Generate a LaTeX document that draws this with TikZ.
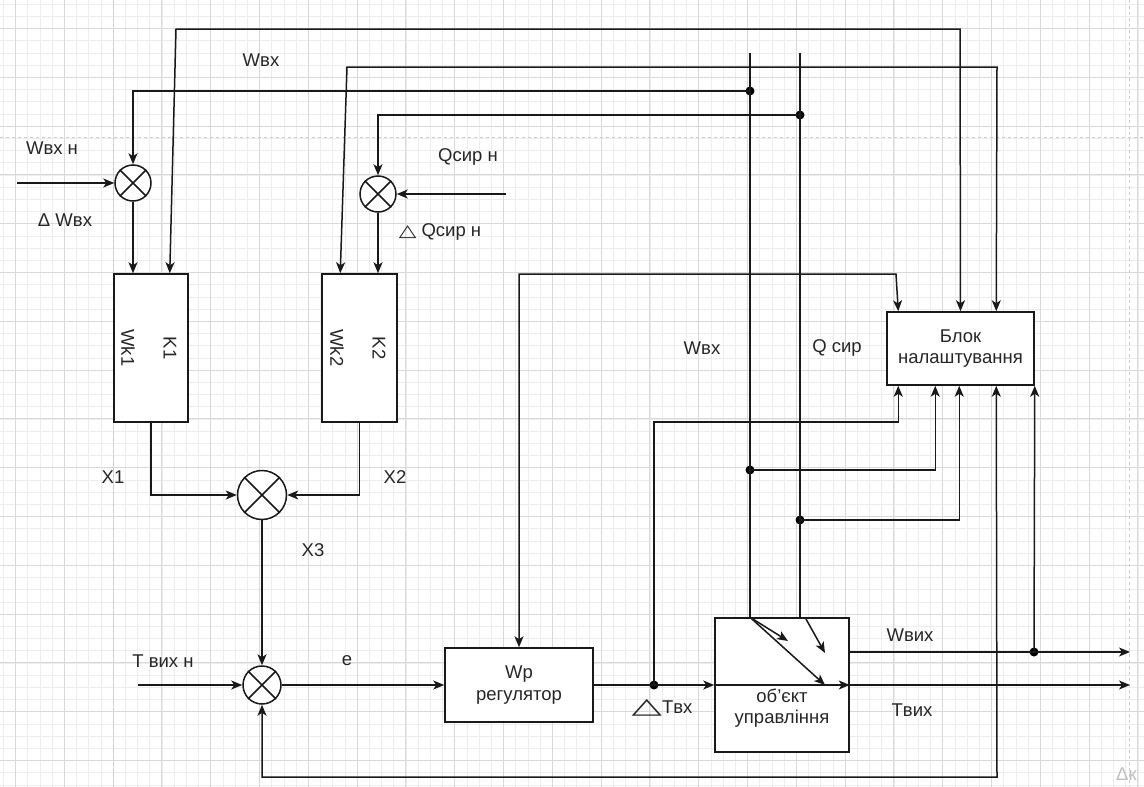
\documentclass[tikz,border=0pt]{standalone}
\usepackage{fontspec}
\usepackage{graphicx}
\setmainfont{Liberation Sans}
\newfontfamily\symfont{DejaVu Sans}
\usetikzlibrary{arrows.meta,positioning,calc}
\newcommand{\lblfont}{\fontsize{18.5}{21.5}\selectfont}
\newcommand{\flattri}[2]{{\symfont\fontsize{#1}{#1}\selectfont\scalebox{#2}[1]{△}}}

\begin{document}
\begin{tikzpicture}[x=1pt,y=-1pt,
  >={Stealth[length=11pt,width=9pt,inset=3pt]},
  wire/.style={draw=black!90, line width=1.5pt},
  blockbox/.style={rectangle, draw=black!90, line width=1.5pt, fill=white, align=center, inner sep=0pt, font=\lblfont, text=black!85},
  summ/.style={circle, draw=black!90, line width=1.5pt, fill=white, inner sep=0pt},
  dot/.style={circle, fill=black, inner sep=0pt, minimum size=9pt},
  lbl/.style={font=\lblfont, text=black!85, inner sep=0pt},
  gmin/.style={draw=gray!14, line width=0.7pt},
  gmaj/.style={draw=gray!30, line width=0.9pt},
  pgbrk/.style={draw=gray!40, dashed, line width=0.9pt}]

  \useasboundingbox (0,0) rectangle (1144,787);
  \clip (0,0) rectangle (1144,787);

  % Background grid and page breaks
  \foreach \i in {0,...,94} \draw[gmin] ({3.3+12.2*\i},0) -- ({3.3+12.2*\i},787);
  \foreach \i in {0,...,64} \draw[gmin] (0,{4.1+12.2*\i}) -- (1144,{4.1+12.2*\i});
  \foreach \i in {0,...,23} \draw[gmaj] ({15.5+48.8*\i},0) -- ({15.5+48.8*\i},787);
  \foreach \i in {0,...,16} \draw[gmaj] (0,{28.5+48.8*\i}) -- (1144,{28.5+48.8*\i});
  \draw[pgbrk] (113,0) -- (113,787);
  \draw[pgbrk] (1129,0) -- (1129,787);
  \draw[pgbrk] (0,137) -- (1144,137);
  \node[lbl, text=gray!50, anchor=north west] (corner) at (1116,768) {Δк};

  % Summators
  \node[summ, minimum size=36pt] (sumW) at (133,183) {};
  \node[summ, minimum size=36pt] (sumQ) at (378,194) {};
  \node[summ, minimum size=49pt] (sumX) at (262,495) {};
  \node[summ, minimum size=38pt] (sumT) at (262,685) {};
  \foreach \s in {sumW,sumQ,sumX,sumT}
    \draw[wire] (\s.north west) -- (\s.south east) (\s.north east) -- (\s.south west);

  % Blocks
  \node[blockbox, minimum width=74pt, minimum height=148pt] (k1) at (151,348) {};
  \node[blockbox, minimum width=75pt, minimum height=148pt] (k2) at (359.5,348) {};
  \node[blockbox, minimum width=148pt, minimum height=74pt] (wp) at (519,685) {Wp\\регулятор};
  \node[blockbox, minimum width=134pt, minimum height=134pt] (obj) at (782,685) {};
  \node[blockbox, minimum width=147pt, minimum height=73pt] (blk) at (960.5,348.5) {Блок\\налаштування};
  \node[lbl, rotate=-90] (wk1) at (128,348) {Wk1};
  \node[lbl, rotate=-90] (kk1) at (170,348) {K1};
  \node[lbl, rotate=-90] (wk2) at (337,348) {Wk2};
  \node[lbl, rotate=-90] (kk2) at (379,348) {K2};
  \node[lbl, align=center] (objtxt) at (782,708) {об'єкт\\управління};

  % Junction dots and free ends
  \node[dot] (dW1) at (750,91) {};
  \node[dot] (dQ1) at (800,115) {};
  \node[dot] (dW2) at (750,470) {};
  \node[dot] (dQ2) at (800,520) {};
  \node[dot] (dT) at (654,685) {};
  \node[dot] (dWo) at (1034,652) {};
  \coordinate (wtop) at (750,53);
  \coordinate (qtop) at (800,53);
  \coordinate (inW) at (17,183);
  \coordinate (inQ) at (506,194);
  \coordinate (inT) at (138,685);
  \coordinate (outW) at (1130,652);
  \coordinate (outT) at (1130,685);
  \coordinate (fb) at (262,777);

  % Measured Wвх and Qсир into the object
  \draw[wire] (wtop) -- (wtop |- obj.north);
  \draw[wire] (qtop) -- (qtop |- obj.north);
  \draw[wire,->] (wtop |- obj.north) -- (788,641);
  \draw[wire,->] (wtop |- obj.north) -- (825,685);
  \draw[wire,->] ($(qtop |- obj.north)+(5,0)$) -- (825,653);

  % Top feedback to summators and K blocks
  \draw[wire,->] (dW1.center) -| (sumW.north);
  \draw[wire,->] (dQ1.center) -| (sumQ.north);
  \draw[wire,<->] (blk.north) -- (960,29) -- (176,29) -- ($(k1.north east)+(-19,0)$);
  \draw[wire,<->] ($(blk.north west)+(110,0)$) -- (997,67) -- (347,67) -- ($(k2.north west)+(19,0)$);
  \draw[wire,<->] (wp.north) -- (519,274) -- (896,274) -- ($(blk.north west)+(12,0)$);

  % Inputs and K blocks
  \draw[wire,->] (inW) -- (sumW.west);
  \draw[wire,->] (inQ) -- (sumQ.east);
  \draw[wire,->] (sumW.south) -- (sumW.south |- k1.north);
  \draw[wire,->] (sumQ.south) -- (sumQ.south |- k2.north);
  \draw[wire,->] (k1.south) |- (sumX.west);
  \draw[wire,->] (k2.south) |- (sumX.east);
  \draw[wire,->] (sumX.south) -- (sumT.north);

  % Main loop
  \draw[wire,->] (inT) -- (sumT.west);
  \draw[wire,->] (sumT.east) -- (wp.west);
  \draw[wire] (wp.east) -- (dT.center);
  \draw[wire,->] (dT.center) -- (obj.west);
  \draw[wire,->] (obj.west) -- (obj.east);
  \draw[wire,->] (obj.east) -- (outT);
  \draw[wire,->] ($(obj.east)+(0,-33)$) -- (outW);
  \draw[wire,<->] ($(blk.south west)+(110,0)$) -- (997,777) -- (fb) -- (sumT.south);

  % Signals into Блок налаштування
  \draw[wire,->] (dT.center) -- (654,422) -| ($(blk.south west)+(12,0)$);
  \draw[wire,->] (dW2.center) -| ($(blk.south west)+(49,0)$);
  \draw[wire,->] (dQ2.center) -| ($(blk.south west)+(73,0)$);
  \draw[wire,->] (dWo.center) -- (blk.south east);

  % Labels
  \node[lbl] (lWtop) at (261,60) {Wвх};
  \node[lbl] (lWn) at (52,148) {Wвх н};
  \node[lbl] (lDW) at (65,220) {Δ Wвх};
  \node[lbl] (lQn) at (468,157) {Qсир н};
  \node[lbl] (lDQ) at (440,232) {\flattri{17}{1.35}\ Qсир н};
  \node[lbl] (lX1) at (113,477) {X1};
  \node[lbl] (lX2) at (395,477) {X2};
  \node[lbl] (lX3) at (313,550) {X3};
  \node[lbl] (lTn) at (163,661) {T вих н};
  \node[lbl] (le) at (347,661) {e};
  \node[lbl] (lWm) at (702,348) {Wвх};
  \node[lbl] (lQm) at (837,348) {Q сир};
  \node[lbl] (lWo) at (910,635) {Wвих};
  \node[lbl] (lTo) at (912,710) {Tвих};
  \node[lbl] (lDT) at (662,708) {\flattri{22}{1.8}Tвх};
\end{tikzpicture}
\end{document}
